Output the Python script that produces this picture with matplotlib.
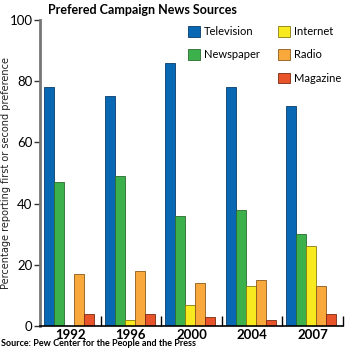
import matplotlib

matplotlib.use("Agg")
import matplotlib.pyplot as plt
from matplotlib.patches import Patch
import numpy as np

YEARS = ["1992", "1996", "2000", "2004", "2007"]
SOURCES = ["Television", "Newspaper", "Internet", "Radio", "Magazine"]
TELEVISION = [78, 75, 86, 78, 72]
NEWSPAPER = [47, 49, 36, 38, 30]
INTERNET = [0, 2, 7, 13, 26]
RADIO = [17, 18, 14, 15, 13]
MAGAZINE = [4, 4, 3, 2, 4]

COLORS = ["#0868b4", "#3cb04a", "#f7ea1f", "#f9a93b", "#e9532a"]
EDGES = ["#0a3c6a", "#2a6a30", "#8a7a10", "#8a5a18", "#7a2a12"]

plt.rcParams.update({"font.family": ["Lato", "DejaVu Sans"], "font.size": 9})

fig = plt.figure(figsize=(3.5, 3.5), dpi=100)
ax = fig.add_axes([40 / 350, 24 / 350, 303 / 350, 306 / 350])

series = [TELEVISION, NEWSPAPER, INTERNET, RADIO, MAGAZINE]
width = 0.165
x = np.arange(len(YEARS))
for k, (vals, col, ec) in enumerate(zip(series, COLORS, EDGES)):
    vals = np.array(vals, dtype=float)
    keep = vals > 0
    ax.bar(x[keep] + 0.066 + width * (k + 0.5), vals[keep], width=width,
           color=col, edgecolor=ec, linewidth=0.6, align="center")

ax.set_xlim(0, 5)
ax.set_ylim(0, 100)
ax.set_yticks([0, 20, 40, 60, 80, 100])
ax.tick_params(axis="y", length=4.5, width=1.0, color="#333333", labelsize=9.5, pad=1)
ax.set_xticks(x + 0.5)
ax.set_xticklabels(YEARS, fontweight="bold", fontsize=9.5)
ax.tick_params(axis="x", length=0, pad=2)
ax.set_xticks(np.arange(1, 6), minor=True)
ax.tick_params(axis="x", which="minor", direction="in", length=7, width=1, color="black")

ax.spines["top"].set_visible(False)
ax.spines["right"].set_visible(False)
ax.spines["left"].set_color("#777777")
ax.spines["left"].set_linewidth(2)
ax.spines["bottom"].set_linewidth(1.2)

ax.set_ylabel("Percentage reporting first or second preference", fontsize=7,
              family=["DejaVu Sans"], color="#222222")
ax.yaxis.set_label_coords(-29 / 303, 0.5)

handles = [Patch(facecolor=COLORS[i], edgecolor=EDGES[i], linewidth=0.6) for i in range(5)]
blank = Patch(facecolor="none", edgecolor="none")
labels = SOURCES
leg = ax.legend([handles[0], handles[1], blank, handles[2], handles[3], handles[4]],
                [labels[0], labels[1], "", labels[2], labels[3], labels[4]],
                ncol=2, frameon=False, loc="upper left",
                bbox_to_anchor=(148 / 303, 1.0 - 6 / 306),
                borderpad=0, borderaxespad=0,
                handlelength=1.1, handleheight=1.1, handletextpad=0.35,
                labelspacing=1.1, columnspacing=1.6, fontsize=8)

fig.text(48 / 350, 1 - 10 / 350, "Prefered Campaign News Sources", fontsize=9,
         fontweight="bold", va="center", ha="left")
fig.text(1 / 350, 6 / 350, "Source: Pew Center for the People and the Press",
         fontsize=6.5, fontweight="bold", va="center", ha="left")

fig.savefig("out.png", dpi=100)
